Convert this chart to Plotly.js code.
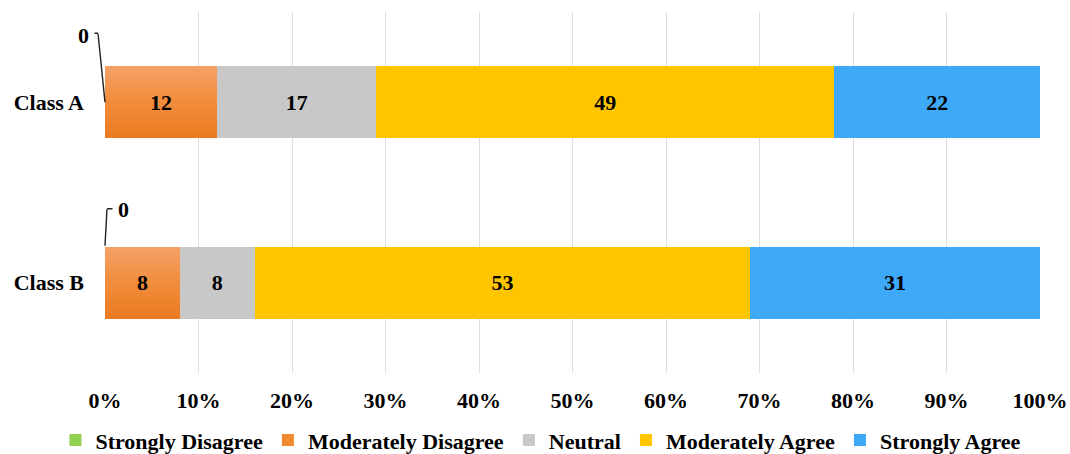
<!DOCTYPE html>
<html>
<head>
<meta charset="utf-8">
<script src="https://cdn.plot.ly/plotly-3.0.1.min.js"></script>
<style>
  html, body { margin: 0; padding: 0; background: #fff; }
  #chart { width: 1070px; height: 454px; }
</style>
</head>
<body>
<div id="chart"></div>
<script>
// Survey responses per class (percent of respondents)
const classes = ['Class A', 'Class B'];
const stronglyDisagree = [0, 0];
const moderatelyDisagree = [12, 8];
const neutral = [17, 8];
const moderatelyAgree = [49, 53];
const stronglyAgree = [22, 31];
const percentTicks = [0, 10, 20, 30, 40, 50, 60, 70, 80, 90, 100];

const FONT = 'Liberation Serif, Times New Roman, serif';
const labelFont = { family: FONT, size: 22, color: '#000', weight: 'bold' };

function barTrace(name, values, color, showText) {
  return {
    type: 'bar',
    orientation: 'h',
    name: name,
    y: classes,
    x: values,
    marker: { color: color, line: { width: 0 } },
    text: values.map(String),
    textposition: showText ? 'inside' : 'none',
    insidetextanchor: 'middle',
    textangle: 0,
    constraintext: 'none',
    insidetextfont: labelFont,
    hoverinfo: 'skip'
  };
}

const traces = [
  barTrace('Strongly Disagree', stronglyDisagree, '#92D050', false),
  barTrace('Moderately Disagree', moderatelyDisagree, '#F08A30', true),
  barTrace('Neutral', neutral, '#C8C8C8', true),
  barTrace('Moderately Agree', moderatelyAgree, '#FFC600', true),
  barTrace('Strongly Agree', stronglyAgree, '#3FA9F9', true)
];

// Zero-width "Strongly Disagree" segments: label placed outside the bar,
// joined to the bar by an elbowed leader line (pixel offsets from the bar start)
const zeroCallouts = [
  { label: [-22, 67], rise: { from: [0, 0], to: [-7, 69] }, foot: { from: [-7, 69], to: [-11, 69] } },
  { label: [18, 73],  rise: { from: [0, 37], to: [2, 74] }, foot: { from: [2, 74], to: [8, 74] } }
];

const leader = { color: '#222', width: 1.4 };

function leaderSegment(cls, seg) {
  return {
    x: 0, y: cls, xref: 'x', yref: 'y',
    text: '',
    showarrow: true,
    arrowhead: 0,
    arrowwidth: leader.width,
    arrowcolor: leader.color,
    standoff: 0,
    startstandoff: 0,
    xshift: seg.from[0],
    yshift: seg.from[1],
    axref: 'pixel', ayref: 'pixel',
    ax: seg.to[0] - seg.from[0],
    ay: -(seg.to[1] - seg.from[1]),
    font: { size: 1 },
    borderpad: 0
  };
}

const annotations = [];
classes.forEach((c, i) => {
  const co = zeroCallouts[i];
  annotations.push(leaderSegment(c, co.rise));
  annotations.push(leaderSegment(c, co.foot));
  annotations.push({
    x: stronglyDisagree[i], y: c, xref: 'x', yref: 'y',
    text: String(stronglyDisagree[i]),
    showarrow: false,
    xshift: co.label[0],
    yshift: co.label[1],
    font: labelFont
  });
});

const layout = {
  width: 1070,
  height: 454,
  margin: { l: 105, r: 30, t: 12, b: 81, autoexpand: false },
  paper_bgcolor: '#fff',
  plot_bgcolor: '#fff',
  barmode: 'stack',
  bargap: 0.6,
  showlegend: true,
  font: { family: FONT, size: 22, color: '#000' },
  xaxis: {
    range: [0, 100],
    tickvals: percentTicks,
    ticktext: percentTicks.map(v => v + '%'),
    showgrid: true,
    gridcolor: '#DADFE5',
    gridwidth: 1,
    zeroline: false,
    showline: false,
    ticks: '',
    ticklabelstandoff: 12,
    tickfont: labelFont,
    automargin: false,
    fixedrange: true
  },
  yaxis: {
    type: 'category',
    categoryorder: 'array',
    categoryarray: classes,
    autorange: 'reversed',
    showgrid: false,
    zeroline: false,
    showline: false,
    ticks: '',
    ticklabelstandoff: 20,
    tickfont: labelFont,
    automargin: false,
    fixedrange: true
  },
  legend: {
    orientation: 'h',
    xref: 'paper',
    x: -0.053,
    xanchor: 'left',
    yref: 'paper',
    y: -0.186,
    yanchor: 'middle',
    font: labelFont,
    itemwidth: 30,
    traceorder: 'normal',
    itemclick: false,
    itemdoubleclick: false
  },
  annotations: annotations
};

const gd = document.getElementById('chart');

// Soft vertical shading on the orange segments
function shadeOrange() {
  const svg = gd.querySelector('.main-svg');
  if (!svg) return;
  let defs = svg.querySelector('defs');
  if (!defs) {
    defs = document.createElementNS('http://www.w3.org/2000/svg', 'defs');
    svg.insertBefore(defs, svg.firstChild);
  }
  if (!svg.querySelector('#orangeShade')) {
    const grad = document.createElementNS('http://www.w3.org/2000/svg', 'linearGradient');
    grad.setAttribute('id', 'orangeShade');
    grad.setAttribute('x1', '0'); grad.setAttribute('y1', '0');
    grad.setAttribute('x2', '0'); grad.setAttribute('y2', '1');
    [['0%', '#F4A267'], ['50%', '#F28C3C'], ['100%', '#EB7A20']].forEach(([o, c]) => {
      const s = document.createElementNS('http://www.w3.org/2000/svg', 'stop');
      s.setAttribute('offset', o);
      s.setAttribute('stop-color', c);
      grad.appendChild(s);
    });
    defs.appendChild(grad);
  }
  const groups = gd.querySelectorAll('.barlayer .trace.bars');
  if (groups[1]) {
    groups[1].querySelectorAll('.point path').forEach(p => {
      p.style.fill = 'url(#orangeShade)';
    });
  }
}

Plotly.newPlot(gd, traces, layout, { displayModeBar: false, staticPlot: true })
  .then(shadeOrange);
</script>
</body>
</html>
